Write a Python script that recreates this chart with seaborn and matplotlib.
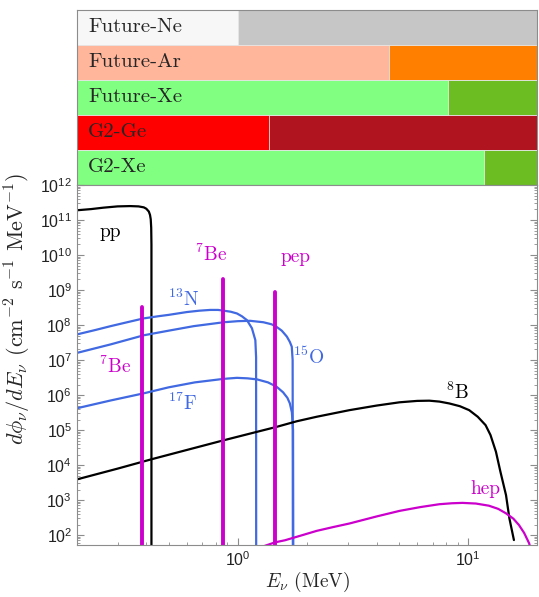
import matplotlib
matplotlib.use("Agg")
import matplotlib.pyplot as plt
import seaborn as sns
import pandas as pd
from matplotlib.ticker import LogLocator, NullFormatter

# top panel: experiments and their thresholds (MeV)
experiments = ["Future-Ne", "Future-Ar", "Future-Xe", "G2-Ge", "G2-Xe"]
thresholds = [1.0, 4.55, 8.2, 1.36, 11.7]
col_low = ["#f7f7f7", "#ffb69b", "#80ff80", "#ff0000", "#80ff80"]
col_high = ["#c6c6c6", "#ff8000", "#6bbd22", "#b0151f", "#6bbd22"]
E_max = [20, 20, 20, 20, 20]

# continuous solar neutrino spectra (E in MeV, flux in cm^-2 s^-1 MeV^-1)
pp_E = [0.20, 0.23, 0.26, 0.30, 0.34, 0.37, 0.39, 0.40, 0.41, 0.415, 0.418, 0.42, 0.421, 0.421]
pp_flux = [1.9e11, 2.05e11, 2.25e11, 2.45e11, 2.5e11, 2.45e11, 2.3e11, 2.1e11, 1.75e11,
           1.4e11, 1.05e11, 6e10, 2e10, 30]

n13_E = [0.20, 0.24, 0.28, 0.33, 0.39, 0.45, 0.50, 0.60, 0.68, 0.757, 0.82, 0.867, 0.93,
         0.99, 1.04, 1.094, 1.15, 1.19, 1.199, 1.20]
n13_flux = [5.4e7, 7.2e7, 9.3e7, 1.2e8, 1.55e8, 1.78e8, 1.95e8, 2.35e8, 2.57e8, 2.7e8,
            2.7e8, 2.57e8, 2.4e8, 2.14e8, 1.78e8, 1.38e8, 8.1e7, 3.7e7, 1.2e7, 10]

o15_E = [0.20, 0.28, 0.39, 0.50, 0.643, 0.867, 1.0, 1.13, 1.29, 1.40, 1.47, 1.55, 1.63,
         1.68, 1.713, 1.728, 1.732]
o15_flux = [1.6e7, 2.8e7, 5.1e7, 6.9e7, 9.3e7, 1.2e8, 1.29e8, 1.32e8, 1.2e8, 1.05e8,
            8.9e7, 6.9e7, 4.7e7, 3.3e7, 2.4e7, 1e7, 10]

f17_E = [0.20, 0.28, 0.39, 0.50, 0.65, 0.867, 0.99, 1.10, 1.21, 1.35, 1.47, 1.57, 1.64,
         1.68, 1.715, 1.735, 1.74]
f17_flux = [4.2e5, 7.0e5, 1.12e6, 1.66e6, 2.3e6, 2.9e6, 3.1e6, 3.0e6, 2.8e6, 2.3e6,
            1.74e6, 1.2e6, 8.3e5, 5.8e5, 3.2e5, 1.0e5, 10]

b8_E = [0.20, 0.30, 0.424, 0.60, 0.867, 1.21, 1.47, 1.8, 2.2, 3.05, 4.0, 5.03, 6.0, 6.78,
        7.5, 8.28, 9.2, 10.1, 11.0, 11.9, 12.5, 13.2, 13.8, 14.6, 15.1, 15.8]
b8_flux = [3.9e3, 7.9e3, 1.48e4, 2.7e4, 5.1e4, 8.9e4, 1.23e5, 1.78e5, 2.4e5, 3.7e5, 5.0e5,
           6.2e5, 6.8e5, 6.9e5, 6.5e5, 5.75e5, 4.8e5, 3.7e5, 2.4e5, 1.38e5, 7.2e4, 2.4e4,
           6.5e3, 1.38e3, 300, 72]

hep_E = [1.27, 1.45, 1.6, 1.86, 2.2, 2.6, 3.05, 4.0, 5.03, 6.2, 7.49, 8.5, 9.45, 10.8,
         12.3, 13.5, 14.6, 15.7, 16.6, 17.5, 18.4, 18.8]
hep_flux = [46, 62, 71, 95, 132, 170, 214, 340, 490, 630, 760, 810, 830, 795, 690, 560,
            417, 295, 195, 115, 58, 32]

# monochromatic lines: energy and height
line_E = [0.384, 0.862, 1.442]
line_top = [3.3e8, 2.0e9, 9.0e8]

# curve labels
labels = ["pp", r"$^7$Be", "pep", r"$^{13}$N", r"$^{15}$O", r"$^7$Be", r"$^{17}$F", r"$^8$B", "hep"]
label_E = [0.279, 0.764, 1.77, 0.58, 2.03, 0.292, 0.578, 9.05, 11.85]
label_y = [4.6e10, 1.07e10, 8.9e9, 5.4e8, 1.23e7, 6.5e6, 5.7e5, 1.17e6, 2.05e3]

BLACK = "black"
BLUE = "#4169e1"
MAG = "#cc00cc"
label_col = [BLACK, MAG, MAG, BLUE, BLUE, MAG, BLUE, BLACK, MAG]

sns.set_style("ticks")
plt.rcParams["font.family"] = "sans-serif"
plt.rcParams["font.sans-serif"] = ["Liberation Sans"]
plt.rcParams["mathtext.fontset"] = "cm"
SERIF = "cmr10"
EDGE = "#8c8c8c"

fig = plt.figure(figsize=(5.39, 5.97), dpi=100)
ax_top = fig.add_axes([0.1429, 0.6901, 0.8543, 0.2931])
ax = fig.add_axes([0.1429, 0.0871, 0.8543, 0.6030])

# ---- top panel: threshold bands
ax_top.set_xscale("log")
sns.barplot(x=E_max, y=experiments, hue=experiments, palette=col_high, legend=False,
            orient="h", width=1.0, saturation=1, edgecolor="#e6e6e6", linewidth=0.6, ax=ax_top)
sns.barplot(x=thresholds, y=experiments, hue=experiments, palette=col_low, legend=False,
            orient="h", width=1.0, saturation=1, edgecolor="#e6e6e6", linewidth=0.6, ax=ax_top)
ax_top.set_xlim(0.2, 20)
ax_top.set_ylim(len(experiments) - 0.5, -0.5)
for i, name in enumerate(experiments):
    ax_top.text(0.224, i, name, fontfamily=SERIF, fontsize=15, ha="left", va="center")
ax_top.set_xlabel("")
ax_top.set_ylabel("")
ax_top.set_yticks([])
ax_top.xaxis.set_major_locator(LogLocator(base=10, numticks=10))
ax_top.xaxis.set_minor_locator(LogLocator(base=10, subs=range(2, 10), numticks=20))
ax_top.tick_params(axis="x", which="both", direction="in", bottom=False, top=True,
                   labelbottom=False, color=EDGE)
ax_top.tick_params(axis="x", which="major", length=4)
ax_top.tick_params(axis="x", which="minor", length=2)
for s in ax_top.spines.values():
    s.set_color(EDGE)
    s.set_linewidth(0.8)

# ---- bottom panel: spectra
curves = [(pp_E, pp_flux, BLACK), (n13_E, n13_flux, BLUE), (o15_E, o15_flux, BLUE),
          (f17_E, f17_flux, BLUE), (b8_E, b8_flux, BLACK), (hep_E, hep_flux, MAG)]
for E, fl, c in curves:
    df = pd.DataFrame({"E": E, "flux": fl})
    sns.lineplot(data=df, x="E", y="flux", sort=False, estimator=None, color=c, lw=1.6, ax=ax)

for E, top in zip(line_E, line_top):
    sns.lineplot(x=[E, E], y=[30, top], sort=False, estimator=None, color=MAG, lw=2.8, ax=ax)

for t, x, y, c in zip(labels, label_E, label_y, label_col):
    ax.text(x, y, t, color=c, fontfamily=SERIF, fontsize=14, ha="center", va="center")

ax.set_xscale("log")
ax.set_yscale("log")
ax.set_xlim(0.2, 20)
ax.set_ylim(52, 1e12)
ax.yaxis.set_major_locator(LogLocator(base=10, numticks=20))
ax.yaxis.set_minor_locator(LogLocator(base=10, subs=range(2, 10), numticks=30))
ax.yaxis.set_minor_formatter(NullFormatter())
ax.xaxis.set_minor_formatter(NullFormatter())
ax.tick_params(which="both", direction="in", top=False, right=True, color=EDGE,
               labelsize=11.5, labelcolor="#222222")
ax.tick_params(which="major", length=5)
ax.tick_params(which="minor", length=2.5)
for s in ax.spines.values():
    s.set_color(EDGE)
    s.set_linewidth(0.8)

ax.set_xlabel(r"$E_\nu$ (MeV)", fontfamily=SERIF, fontsize=14, labelpad=1)
ax.set_ylabel("")
fig.text(0.034, 0.4824, r"$d\phi_\nu/dE_\nu$ (cm$^{-2}$ s$^{-1}$ MeV$^{-1}$)",
         fontfamily=SERIF, fontsize=16, rotation=90, ha="center", va="center")

fig.savefig("out.png", dpi=100)
